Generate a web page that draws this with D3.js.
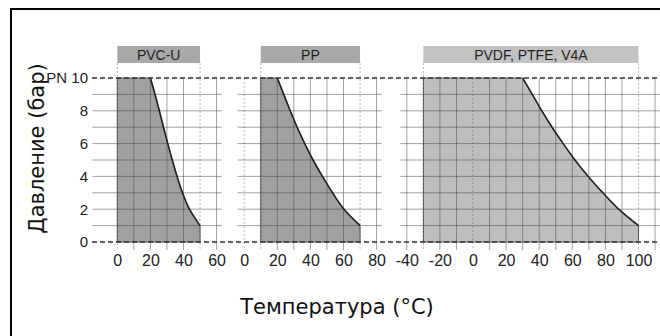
<!DOCTYPE html>
<html>
<head>
<meta charset="utf-8">
<script src="https://cdn.jsdelivr.net/npm/d3@7"></script>
<style>
  body { margin: 0; background: #fff; }
  svg { display: block; }
  .tick text { font-family: "Liberation Sans", Arial, sans-serif; fill: #222; }
</style>
</head>
<body>
<svg width="660" height="336"></svg>
<script>
// data
const materials = ["PVC-U", "PP", "PVDF, PTFE, V4A"];
const tempMin = [0, 10, -30];
const tempMax = [50, 70, 100];
const xTicks = [[0, 20, 40, 60], [0, 20, 40, 60, 80], [-40, -20, 0, 20, 40, 60, 80, 100]];
const yTicks = [0, 2, 4, 6, 8, 10];

// derating curves, from the knee (end of PN 10) down to 1 bar
const pressSteps = [10, 9, 8, 7, 6, 5, 4, 3, 2, 1];
const pvcTemp = [20, 22.8, 25.4, 27.9, 30.5, 33.2, 36.1, 39.4, 43.6, 50];
const ppTemp = [20, 23.9, 27.8, 32, 36.6, 41.6, 47.3, 53.4, 60.3, 70];
const pvdfTemp = [30, 35.8, 41.6, 47.8, 54.5, 61.6, 69.6, 78.5, 88, 100];

const curves = [pvcTemp, ppTemp, pvdfTemp]
  .map(ts => ts.map((t, i) => ({ t: t, p: pressSteps[i] })));

const svg = d3.select("svg");
const width = +svg.attr("width");
const height = +svg.attr("height");

// layout of the three panels (pixel position of 0 °C, visible range)
const k = 1.655;
const zeroX = [117.3, 244.2, 473.0];
const view = [[-15, 63], [-4, 83], [-44, 113]];
const gridRange = [[0, 60], [0, 80], [-40, 110]];
const fills = ["#a0a0a0", "#a0a0a0", "#bebebe"];
const heads = ["#a8a8a8", "#a8a8a8", "#c2c2c2"];

const y = d3.scaleLinear().domain([0, 10]).range([242, 78]);

svg.append("rect").attr("width", width).attr("height", height).attr("fill", "#fff");

// outer frame
svg.append("rect")
  .attr("x", 11).attr("y", 9)
  .attr("width", 700).attr("height", 400)
  .attr("fill", "none").attr("stroke", "#000").attr("stroke-width", 2);

materials.forEach((m, i) => {
  const x = d3.scaleLinear()
    .domain(view[i])
    .range(view[i].map(v => zeroX[i] + v * k));
  const g = svg.append("g");

  // header box
  g.append("rect")
    .attr("x", x(tempMin[i])).attr("y", 46)
    .attr("width", x(tempMax[i]) - x(tempMin[i])).attr("height", 17)
    .attr("fill", heads[i]);
  g.append("text")
    .attr("x", (x(tempMin[i]) + x(tempMax[i])) / 2).attr("y", 59.5)
    .attr("text-anchor", "middle")
    .style("font-family", "'Liberation Sans', Arial, sans-serif")
    .style("font-size", "14px").attr("fill", "#222")
    .text(m);

  // derating curve
  const line = d3.line()
    .x(d => x(d.t)).y(d => y(d.p))
    .curve(d3.curveMonotoneY);
  const curveD = line(curves[i]);

  // shaded working range
  g.append("path")
    .attr("d", curveD +
      "L" + x(tempMax[i]) + "," + y(0) +
      "L" + x(tempMin[i]) + "," + y(0) +
      "L" + x(tempMin[i]) + "," + y(10) + "Z")
    .attr("fill", fills[i])
    .attr("stroke", "#555").attr("stroke-width", 1);

  // grid
  const hLines = d3.range(1, 10);
  g.selectAll(".hgrid").data(hLines).enter().append("line")
    .attr("class", "hgrid")
    .attr("x1", x.range()[0]).attr("x2", x.range()[1])
    .attr("y1", d => y(d)).attr("y2", d => y(d))
    .attr("stroke", "#444").attr("stroke-opacity", 0.5);

  const dotted = d => d === 0 || d === tempMin[i] || d === tempMax[i];
  const vLines = d3.range(gridRange[i][0], gridRange[i][1] + 1, 10);
  g.selectAll(".vgrid").data(vLines).enter().append("line")
    .attr("class", "vgrid")
    .attr("x1", d => x(d)).attr("x2", d => x(d))
    .attr("y1", d => (d === tempMin[i] || d === tempMax[i]) ? 63 : y(10))
    .attr("y2", 250)
    .attr("stroke", "#444")
    .attr("stroke-opacity", d => dotted(d) ? 0.4 : 0.5)
    .attr("stroke-dasharray", d => dotted(d) ? "2,2" : null);

  g.append("path")
    .attr("d", curveD)
    .attr("fill", "none")
    .attr("stroke", "#222").attr("stroke-width", 1.6);

  // x axis labels
  const ax = g.append("g")
    .attr("transform", "translate(0,251)")
    .call(d3.axisBottom(x).tickValues(xTicks[i]).tickSize(0).tickPadding(4)
      .tickFormat(d => String(d)));
  ax.select(".domain").remove();
  ax.selectAll("text").style("font-size", "16px");
});

// dashed limits at 0 and PN 10
svg.selectAll(".limit").data([0, 10]).enter().append("line")
  .attr("class", "limit")
  .attr("x1", 92).attr("x2", width)
  .attr("y1", d => y(d)).attr("y2", d => y(d))
  .attr("stroke", "#333").attr("stroke-width", 1.6)
  .attr("stroke-dasharray", "5,3");

// y axis labels
const ay = svg.append("g")
  .attr("transform", "translate(90,0)")
  .call(d3.axisLeft(y).tickValues(yTicks).tickSize(0).tickPadding(2)
    .tickFormat(d => d === 10 ? "PN 10" : d));
ay.select(".domain").remove();
ay.selectAll("text").style("font-size", "15px");

// axis titles
svg.append("text")
  .attr("transform", "translate(44,148.5) rotate(-90)")
  .attr("text-anchor", "middle")
  .style("font-family", "'DejaVu Sans', Verdana, sans-serif")
  .style("font-size", "21px").attr("fill", "#111")
  .text("Давление (бар)");

svg.append("text")
  .attr("x", 337).attr("y", 314)
  .attr("text-anchor", "middle")
  .style("font-family", "'DejaVu Sans', Verdana, sans-serif")
  .style("font-size", "21px").attr("fill", "#111")
  .text("Температура (°C)");
</script>
</body>
</html>
